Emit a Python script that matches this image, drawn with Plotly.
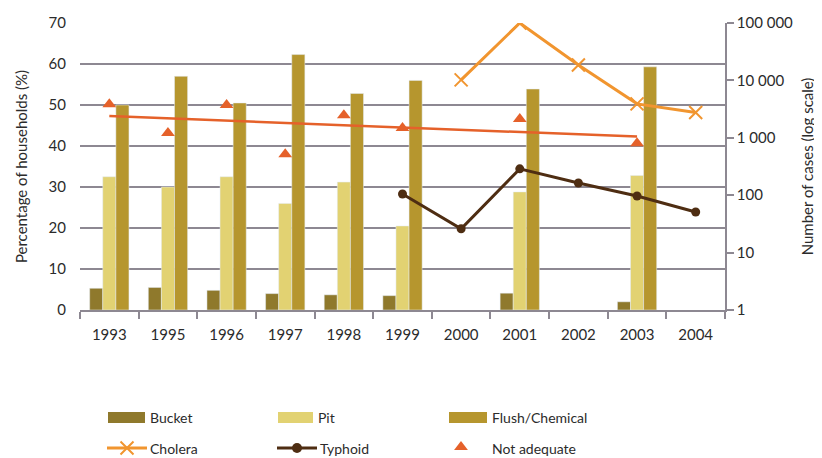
import plotly.graph_objects as go

years = ["1993", "1995", "1996", "1997", "1998", "1999", "2000", "2001", "2002", "2003", "2004"]
bucket = [5.3, 5.5, 4.8, 4.0, 3.7, 3.5, None, 4.1, None, 2.0, None]
pit = [32.5, 30.0, 32.5, 26.0, 31.2, 20.5, None, 28.8, None, 32.8, None]
flush = [50.0, 57.0, 50.5, 62.3, 52.8, 56.0, None, 53.9, None, 59.3, None]
not_adequate_years = ["1993", "1995", "1996", "1997", "1998", "1999", "2001", "2003"]
not_adequate = [50.2, 43.2, 50.0, 38.0, 47.5, 44.4, 46.6, 40.7]
trend_years = ["1993", "2003"]
trend_values = [47.3, 42.3]
cholera_years = ["2000", "2001", "2002", "2003", "2004"]
cholera = [10200, 100000, 18600, 3900, 2750]
typhoid_years = ["1999", "2000", "2001", "2002", "2003", "2004"]
typhoid = [105, 26, 288, 163, 97, 51]
right_tickvals = [1, 10, 100, 1000, 10000, 100000]
right_ticktext = ["1", "10", "100", "1 000", "10 000", "100 000"]

C_BUCKET = "#8f792c"
C_PIT = "#e2d272"
C_FLUSH = "#b6962e"
C_CHOLERA = "#f1952f"
C_TYPHOID = "#4e2d12"
C_TRI = "#e5612a"
C_GRID = "#8d8892"
FONT = "Lato"
TXT = "#2b2b2b"

fig = go.Figure()
fig.add_bar(x=years, y=bucket, name="Bucket", marker_color=C_BUCKET, showlegend=False)
fig.add_bar(x=years, y=pit, name="Pit", marker_color=C_PIT, showlegend=False)
fig.add_bar(x=years, y=flush, name="Flush/Chemical", marker_color=C_FLUSH, showlegend=False)
fig.add_scatter(x=trend_years, y=trend_values, mode="lines", line=dict(color=C_TRI, width=2.5),
                showlegend=False, hoverinfo="skip")
fig.add_scatter(x=not_adequate_years, y=not_adequate, mode="markers", name="Not adequate",
                marker=dict(symbol="triangle-up", size=12, color=C_TRI), showlegend=False)
fig.add_scatter(x=cholera_years, y=cholera, mode="lines+markers", name="Cholera", yaxis="y2",
                line=dict(color=C_CHOLERA, width=3),
                marker=dict(symbol="x-thin", size=13, line=dict(color=C_CHOLERA, width=2)),
                showlegend=False)
fig.add_scatter(x=typhoid_years, y=typhoid, mode="lines+markers", name="Typhoid", yaxis="y2",
                line=dict(color=C_TYPHOID, width=3),
                marker=dict(symbol="circle", size=9, color=C_TYPHOID), showlegend=False)

# ---- custom legend (helper axes whose units match window pixels) ----
legend_font = dict(family=FONT, size=14, color=TXT)
swatches = [(108, 145, C_BUCKET, "Bucket", 148), (278, 313, C_PIT, "Pit", 316),
            (449, 487, C_FLUSH, "Flush/Chemical", 490)]
for x0, x1, col, label, tx in swatches:
    fig.add_shape(type="rect", xref="x3", yref="y3", x0=x0, x1=x1, y0=412, y1=423,
                  fillcolor=col, line=dict(width=0))
    fig.add_annotation(xref="x3", yref="y3", x=tx, y=417.5, text=label, showarrow=False,
                       xanchor="left", yanchor="middle", font=legend_font)
lines_leg = [(107, 147, C_CHOLERA, "Cholera", 148), (277, 317, C_TYPHOID, "Typhoid", 318)]
for x0, x1, col, label, tx in lines_leg:
    fig.add_shape(type="line", xref="x3", yref="y3", x0=x0, x1=x1, y0=448, y1=448,
                  line=dict(color=col, width=3))
    fig.add_annotation(xref="x3", yref="y3", x=tx, y=448, text=label, showarrow=False,
                       xanchor="left", yanchor="middle", font=legend_font)
fig.add_annotation(xref="x3", yref="y3", x=490, y=448, text="Not adequate", showarrow=False,
                   xanchor="left", yanchor="middle", font=legend_font)
fig.add_scatter(x=[127], y=[448], xaxis="x3", yaxis="y3", mode="markers", hoverinfo="skip",
                marker=dict(symbol="x-thin", size=13, line=dict(color=C_CHOLERA, width=2)),
                showlegend=False)
fig.add_scatter(x=[297], y=[448], xaxis="x3", yaxis="y3", mode="markers", hoverinfo="skip",
                marker=dict(symbol="circle", size=10, color=C_TYPHOID), showlegend=False)
fig.add_scatter(x=[461], y=[447], xaxis="x3", yaxis="y3", mode="markers", hoverinfo="skip",
                marker=dict(symbol="triangle-up", size=12, color=C_TRI), showlegend=False)

# page body has an 8px default margin, so the figure is offset by 8px
W, H = 814, 450
main_bottom = (458 - 310) / 435

fig.update_layout(
    width=W, height=H,
    margin=dict(l=72, r=97, t=15, b=0, autoexpand=False),
    paper_bgcolor="white", plot_bgcolor="white",
    barmode="group", bargap=0.33, bargroupgap=0,
    font=dict(family=FONT, size=15, color=TXT),
    xaxis=dict(type="category", categoryorder="array", categoryarray=years,
               range=[-0.5, len(years) - 0.5],
               showline=True, linecolor=C_GRID, linewidth=1.5, automargin=False,
               ticks="outside", tickson="boundaries", ticklen=7, tickcolor=C_GRID, tickwidth=1.5,
               ticklabelstandoff=10,
               showgrid=False, tickfont=dict(size=15), domain=[0, 1], anchor="y"),
    yaxis=dict(range=[0, 70], dtick=10, showgrid=True, gridcolor=C_GRID, gridwidth=1.5,
               showline=False, zeroline=False, ticks="outside", ticklen=10, tickcolor="rgba(0,0,0,0)",
               domain=[main_bottom, 1], automargin=False,
               title=dict(text="Percentage of households (%)", font=dict(size=15), standoff=17)),
    yaxis2=dict(type="log", range=[0, 5], overlaying="y", side="right", anchor="x",
                tickvals=right_tickvals, ticktext=right_ticktext, automargin=False,
                showgrid=False, showline=True, linecolor=C_GRID, linewidth=1.5,
                ticks="outside", ticklen=7, tickcolor=C_GRID, tickwidth=1.5, zeroline=False,
                title=dict(text="Number of cases (log scale)", font=dict(size=15), standoff=10)),
    xaxis3=dict(domain=[0, 1], range=[80, 725], visible=False, anchor="y3", fixedrange=True),
    yaxis3=dict(domain=[0, main_bottom], range=[458, 310], visible=False, anchor="x3", fixedrange=True),
)

fig.write_html("out.html")
